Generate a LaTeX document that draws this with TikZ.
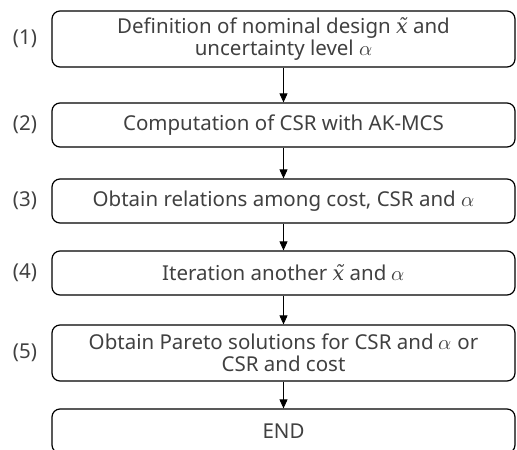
\documentclass[tikz,border=0pt]{standalone}
\usepackage{amsmath}
\usepackage{fontspec}
\usepackage{unicode-math}
\setmainfont{Noto Sans}
\newfontfamily\xfont{DejaVu Serif}
\usetikzlibrary{arrows.meta}
\newcommand{\xnom}{{\xfont\itshape x\symbol{"0303}}}

\begin{document}
\begin{tikzpicture}[x=1pt, y=-1pt, font=\fontsize{20.5}{21.5}\selectfont,
		box/.style={draw=black, text=black!75, rounded corners=8pt, line width=1.2pt, minimum width=463pt, align=center, inner sep=0pt},
		num/.style={inner sep=0pt, text=black!75},
		arr/.style={-{Triangle[length=9pt, width=8pt]}, line width=0.8pt}]
		\useasboundingbox (0,0) rectangle (517,450);
		\node[box, minimum height=56pt](s1) at (283.5,39) {Definition of nominal design \xnom{} and\\uncertainty level $\alpha$};
		\node[box, minimum height=44pt](s2) at (283.5,125) {Computation of CSR with AK-MCS};
		\node[box, minimum height=44pt](s3) at (283.5,201) {Obtain relations among cost, CSR and $\alpha$};
		\node[box, minimum height=44pt](s4) at (283.5,273) {Iteration another \xnom{} and $\alpha$};
		\node[box, minimum height=56pt](s5) at (283.5,353) {Obtain Pareto solutions for CSR and $\alpha$ or\\CSR and cost};
		\node[box, minimum height=44pt](end) at (283.5,431) {END};
		\node[num](n1) at (25,39) {(1)};
		\node[num](n2) at (25,125) {(2)};
		\node[num](n3) at (25,201) {(3)};
		\node[num](n4) at (25,273) {(4)};
		\node[num](n5) at (25,353) {(5)};
		\draw[arr] (s1) -- (s2);
		\draw[arr] (s2) -- (s3);
		\draw[arr] (s3) -- (s4);
		\draw[arr] (s4) -- (s5);
		\draw[arr] (s5) -- (end);
	\end{tikzpicture}
\end{document}
